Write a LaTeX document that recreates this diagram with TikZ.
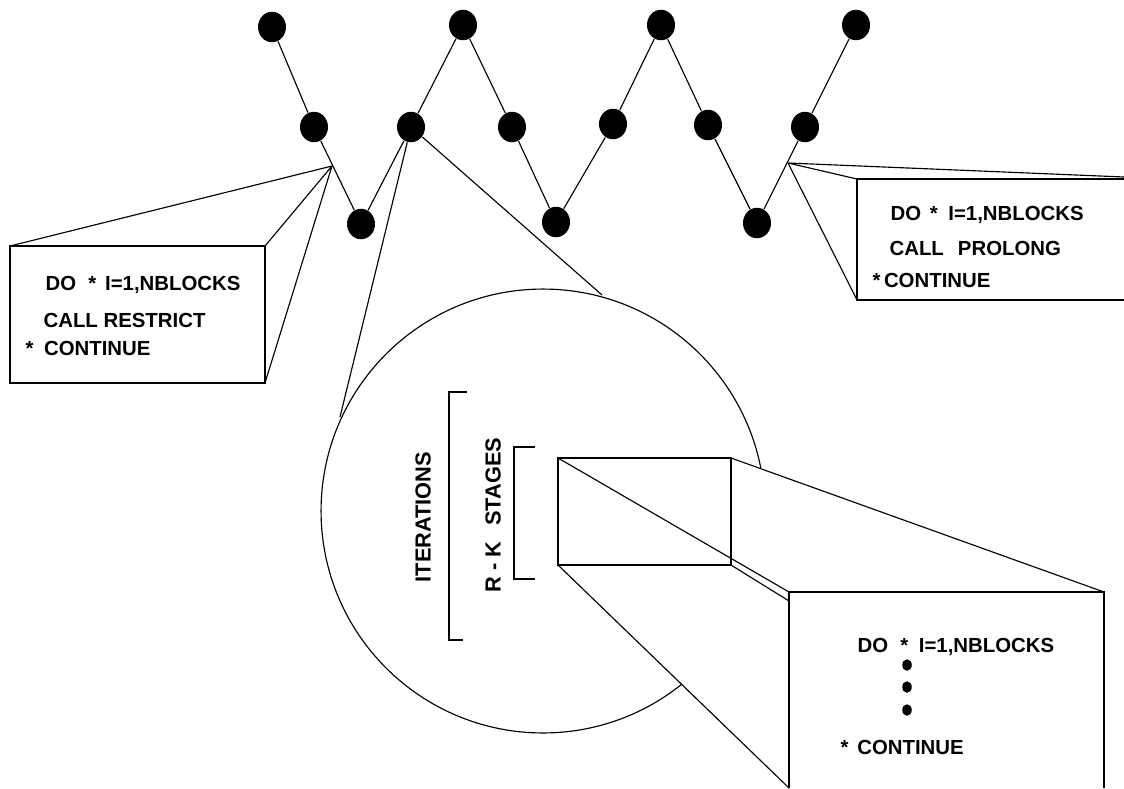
\documentclass[tikz,border=0pt]{standalone}
\usepackage{fontspec}
\setmainfont{Liberation Sans}
\usepackage{tikz}
\usetikzlibrary{shapes.geometric}

\begin{document}
\begin{tikzpicture}[x=0.02cm,y=-0.02cm,line width=0.65pt,
  dot/.style={ellipse,fill=black,minimum width=0.56cm,minimum height=0.61cm,inner sep=0pt},
  pip/.style={ellipse,fill=black,minimum width=0.19cm,minimum height=0.23cm,inner sep=0pt},
  code/.style={anchor=base west,inner sep=0pt,font=\bfseries\fontsize{11.6}{13}\selectfont},
  tag/.style={rotate=90,inner sep=0pt,font=\bfseries\fontsize{12.4}{14}\selectfont}]
\useasboundingbox (0,0) rectangle (1124,788);

% grid levels (V-cycles)
\node[dot] (A) at (272,27)  {};
\node[dot] (B) at (314,127) {};
\node[dot] (C) at (361,224) {};
\node[dot] (D) at (411,127) {};
\node[dot] (E) at (463,25)  {};
\node[dot] (F) at (512,127) {};
\node[dot] (G) at (556,222) {};
\node[dot] (H) at (613,124) {};
\node[dot] (I) at (661,25)  {};
\node[dot] (J) at (708,125) {};
\node[dot] (K) at (757,223) {};
\node[dot] (L) at (805,127) {};
\node[dot] (M) at (856,25)  {};

\path (A) edge (B)
      (B) edge (C)
      (C) edge (D)
      (D) edge (E)
      (E) edge (F)
      (F) edge (G)
      (G) edge (H)
      (H) edge (I)
      (I) edge (J)
      (J) edge (K)
      (K) edge (L)
      (L) edge (M);

% restrict box
\coordinate (P) at (332,166);
\draw (P) -- (10,246) (P) -- (265,246) (P) -- (265,383);
\draw[fill=white] (10,246) rectangle (265,383);
\node[code] (r1) at (45,290)  {DO\hspace{7pt}*\hspace{5pt}I=1,NBLOCKS};
\node[code] (r2) at (43,327)  {CALL RESTRICT};
\node[code] (r3) at (25,355)  {*\hspace{6pt}CONTINUE};

% prolong box
\coordinate (Q) at (788,163);
\draw (Q) -- (857,179) (Q) -- (857,300) (Q) -- (1124,177);
\draw (1124,179) -- (857,179) -- (857,300) -- (1124,300);
\node[code] (p1) at (890,220) {DO\hspace{5pt}*\hspace{6pt}I=1,NBLOCKS};
\node[code] (p2) at (889,255) {CALL\hspace{8pt}PROLONG};
\node[code] (p3) at (872,287) {*\hspace{2pt}CONTINUE};

% zoom on one level
\draw (543,511) circle [radius=4.44cm];
\coordinate (tl) at (340,417);
\coordinate (tr) at (602,295);
\draw (D) -- (tl) (D) -- (tr);

\draw (467,392) -- (449,392) -- (449,640) -- (463,640);
\draw (535,447) -- (514,447) -- (514,579) -- (535,579);
\node[tag] (it) at (423,517) {ITERATIONS};
\node[tag] (rk) at (493,515) {R - K\hspace{9pt}STAGES};

% stage box
\fill[white] (558,458) -- (731,458) -- (1104,592) -- (1104,788)
  -- (789,788) -- (558,565) -- cycle;
\draw (558,458) rectangle (731,565);
\draw (558,458) -- (789,592) (731,458) -- (1104,592)
      (558,565) -- (789,788) (731,565) -- (789,601);
\draw (789,788) -- (789,592) -- (1104,592) -- (1104,788);
\node[code] (s1) at (857,652) {DO\hspace{7pt}*\hspace{6pt}I=1,NBLOCKS};
\node[pip] (d1) at (907,665) {};
\node[pip] (d2) at (907,687) {};
\node[pip] (d3) at (907,710) {};
\node[code] (s2) at (840,754) {*\hspace{5pt}CONTINUE};
\end{tikzpicture}
\end{document}
